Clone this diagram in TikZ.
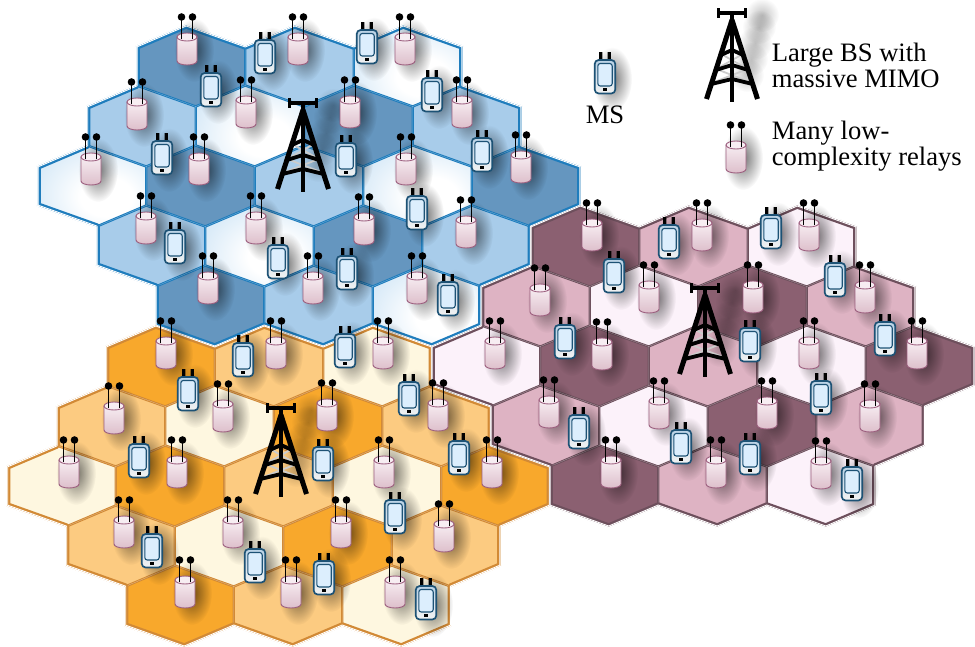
\documentclass[tikz,border=0pt]{standalone}
\usepackage{fontspec}
\setmainfont{Liberation Serif}
\usetikzlibrary{fadings}

% cell colours of the three clusters
\definecolor{bluedark}{HTML}{6596BF}
\definecolor{bluemed}{HTML}{A8CCEA}
\definecolor{bluelight}{HTML}{C6E0F4}
\definecolor{blueline}{HTML}{1F7DBD}
\definecolor{orgdark}{HTML}{F8A82C}
\definecolor{orgmed}{HTML}{FCCB81}
\definecolor{orglight}{HTML}{FEF7E0}
\definecolor{orgline}{HTML}{D28A36}
\definecolor{pnkdark}{HTML}{8B6071}
\definecolor{pnkmed}{HTML}{DEB3C3}
\definecolor{pnklight}{HTML}{FCF2FA}
\definecolor{pnkline}{HTML}{6E505D}
% relay and handset colours
\definecolor{relayline}{HTML}{9C5E7E}
\definecolor{relaytop}{HTML}{F7EDF2}
\definecolor{relaybot}{HTML}{DDBFCB}
\definecolor{phoneline}{HTML}{1D5275}
\definecolor{phonetop}{HTML}{B9D2E6}
\definecolor{phonebot}{HTML}{F2F2F2}
\definecolor{screenblue}{HTML}{DCEEFD}

\pgfdeclareradialshading{lightcell}{\pgfpoint{8bp}{-8bp}}{%
  color(0bp)=(white); color(12bp)=(white); color(42bp)=(bluelight); color(75bp)=(bluelight)}

\tikzfading[name=softblob, inner color=transparent!0, outer color=transparent!100]

\tikzset{
  cellb0/.style={fill=bluemed},
  cellb1/.style={shade, shading=lightcell},
  cellb2/.style={fill=bluedark},
  cello0/.style={fill=orgmed},
  cello1/.style={fill=orglight},
  cello2/.style={fill=orgdark},
  cellp0/.style={fill=pnkmed},
  cellp1/.style={fill=pnklight},
  cellp2/.style={fill=pnkdark},
  relaybody/.style={top color=relaytop, bottom color=relaybot, draw=relayline, line width=0.9},
  phonebody/.style={rounded corners=4, top color=phonetop, bottom color=phonebot, draw=phoneline, line width=1.7},
  towerbrace/.style={draw=gray!40, line width=1.8},
  objshade/.style={fill=black, opacity=0.55, path fading=softblob},
  legendtext/.style={anchor=base west, inner sep=0pt, font=\fontsize{26.6}{26.6}\selectfont},
}

% one hexagonal cell around (#1,#2)
\newcommand\hexat[2]{(#1-54.25,#2-19.5) -- (#1-4.75,#2-40.5) -- (#1+54.25,#2-19.5) -- (#1+54.25,#2+19.5) -- (#1+4.75,#2+40.5) -- (#1-54.25,#2+19.5) -- cycle }

% collect the 19 cells of a cluster and the 18 cells around it
\newcommand\buildcluster[2]{%
  \gdef\cellpath{}\gdef\ringpath{}%
  \foreach \qq in {-3,...,3}{%
    \foreach \rr in {-3,...,3}{%
      \pgfmathtruncatemacro\hexdist{(abs(\qq)+abs(\rr)+abs((\qq)+(\rr)))/2}%
      \pgfmathsetmacro\hx{#1+108.5*(\qq)+49.5*(\rr)}%
      \pgfmathsetmacro\hy{#2-60*(\rr)}%
      \ifnum\hexdist<3 \xdef\cellpath{\cellpath\hexat{\hx}{\hy}}\fi
      \ifnum\hexdist=3 \xdef\ringpath{\ringpath\hexat{\hx}{\hy}}\fi
    }}}

% fill the cells of a cluster with its three shades
\newcommand\fillcluster[3]{%
  \foreach \qq in {-2,...,2}{%
    \foreach \rr in {-2,...,2}{%
      \pgfmathtruncatemacro\hexdist{(abs(\qq)+abs(\rr)+abs((\qq)+(\rr)))/2}%
      \ifnum\hexdist<3
        \pgfmathtruncatemacro\cellcol{mod((\qq)-(\rr)+6,3)}%
        \pgfmathsetmacro\hx{#1+108.5*(\qq)+49.5*(\rr)}%
        \pgfmathsetmacro\hy{#2-60*(\rr)}%
        \path[cell#3\cellcol] \hexat{\hx}{\hy};%
      \fi}}}

% clear the outer half of the border around a cluster
\newcommand\clusterwipe[1]{%
  \begin{scope}[even odd rule]
    \clip (-50,-50) rectangle (1025,700) #1;
    \draw[white, line width=3.2, line join=round] #1;
  \end{scope}}

% thick rim inside a cluster with a thin white seam on its edge
\newcommand\clusterrim[3]{%
  \begin{scope}
    \clip #1;
    \draw[#3, line width=6.4, line join=round] #2;
    \draw[white, line width=1.8, line join=round] #2;
  \end{scope}}

% relay: antennas with balls at (#1,#2)
\newcommand\drawrelay[2]{%
  \path[relaybody] (#1-10,#2+20) -- (#1-10,#2+44) arc[start angle=180, end angle=0, x radius=10, y radius=4] -- (#1+10,#2+20) -- cycle;
  \path[fill=relaytop, draw=relayline, line width=0.9] (#1,#2+20) ellipse [x radius=10, y radius=4];
  \draw[line width=1.7] (#1-5.5,#2) -- (#1-5.5,#2+22) (#1+5.5,#2) -- (#1+5.5,#2+22);
  \fill (#1-5.5,#2) circle[radius=3.8] (#1+5.5,#2) circle[radius=3.8];}

% handset: antenna tips at (#1,#2)
\newcommand\drawphone[2]{%
  \fill (#1-5.8,#2) rectangle (#1-2.7,#2+10) (#1+2.7,#2) rectangle (#1+5.8,#2+10);
  \path[phonebody] (#1-10.3,#2+8) rectangle (#1+10.3,#2+41.5);
  \path[fill=screenblue, draw=phoneline, line width=1.1, rounded corners=2.5] (#1-7.2,#2+11.5) rectangle (#1+7.2,#2+34);
  \fill (#1-2.3,#2+36.4) rectangle (#1+2.3,#2+38.8);}

\newcommand\relayshade[2]{\fill[objshade] (#1+7,#2+33) ellipse [x radius=20, y radius=32];}
\newcommand\phoneshade[2]{\fill[objshade] (#1+7,#2+27) ellipse [x radius=20, y radius=32];}

% lattice tower, top bar centred at (#1,#2)
\newcommand\towershade[2]{%
  \foreach \sx/\sy in {15/62, 19/46, 23/30, 27/14, 30/2}
    \fill[black, opacity=0.24, path fading=softblob] (#1+\sx,#2+\sy) circle[radius=17];}
\newcommand\drawtower[2]{%
  \begin{scope}[shift={(#1,#2)}]
    \draw[towerbrace] (-10.9,41) -- (15.7,56) (10.9,41) -- (-15.7,56)
                      (-15.7,56) -- (20.2,70) (15.7,56) -- (-20.2,70);
    \draw[line width=5, line join=round] (-25.5,86) -- (0,7) -- (25.5,86);
    \draw[line width=4.6] (0,-1) -- (0,89);
    \draw[line width=3.8, line join=round]
      (-11.2,42) -- (0,37) -- (11.2,42)
      (-16,57) -- (0,52) -- (16,57)
      (-20.5,71) -- (0,66) -- (20.5,71);
    \draw[line width=3.6] (-13.5,0) -- (13.5,0);
    \draw[line width=3] (-13.5,-5) -- (-13.5,5) (13.5,-5) -- (13.5,5);
  \end{scope}}

\begin{document}
\begin{tikzpicture}[x=1pt, y=-1pt]
  \useasboundingbox (0,0) rectangle (975,646);
  \fill[white] (0,0) rectangle (975,646);

  \buildcluster{309}{186}\let\cellsB\cellpath\let\ringB\ringpath
  \buildcluster{278.5}{486}\let\cellsO\cellpath\let\ringO\ringpath
  \buildcluster{703}{366}\let\cellsP\cellpath\let\ringP\ringpath

  % cells
  \fillcluster{309}{186}{b}
  \fillcluster{278.5}{486}{o}
  \fillcluster{703}{366}{p}
  \draw[blueline, line width=2.4, line join=round] \cellsB;
  \draw[orgline, line width=2.4, line join=round] \cellsO;
  \draw[pnkline, line width=2.2, line join=round] \cellsP;

  % cluster outlines
  \clusterwipe{\cellsB}
  \clusterwipe{\cellsO}
  \clusterwipe{\cellsP}
  \clusterrim{\cellsB}{\ringB}{blueline}
  \clusterrim{\cellsO}{\ringO}{orgline}
  \clusterrim{\cellsP}{\ringP}{pnkline}

  % shadows
  \towershade{303}{103}
  \towershade{281}{408}
  \towershade{705}{288}
  \towershade{732}{13}
  \foreach \px/\py in {187/17, 298/17, 405/17, 137/82, 246/80, 350/80, 462/80,
      91/137, 199/137, 406/137, 521/135, 146/196, 256/196, 364/197, 466/200,
      208/256, 313/256, 417/256,
      166/321, 276/321, 383/321, 114/386, 223/384, 327/383, 438/383,
      69/440, 177/440, 384/440, 492/440, 124/500, 233/500, 341/500, 444/504,
      185/560, 291/560, 395/560,
      540/268, 592/203, 702/203, 809/203, 649/265, 753/265, 865/265,
      495/321, 602/322, 809/321, 917/321, 549/380, 659/381, 767/381, 870/384,
      611/440, 716/440, 821/441, 736/125}
    \relayshade{\px}{\py};
  \foreach \px/\py in {265/32, 367/22, 211/65, 432/70, 162/133, 346/135, 482/130,
      417/188, 175/222, 278/237, 347/248, 448/274,
      243/335, 345/326, 188/369, 409/374, 139/436, 323/439, 459/433,
      152/526, 255/541, 395/492, 324/553, 426/578,
      669/217, 771/207, 614/251, 835/255, 565/317, 750/320, 885/314,
      821/373, 579/407, 681/422, 750/433, 852/459, 605/52}
    \phoneshade{\px}{\py};

  % base stations
  \drawtower{303}{103}
  \drawtower{281}{408}
  \drawtower{705}{288}
  \drawtower{732}{13}

  % relays
  \foreach \px/\py in {187/17, 298/17, 405/17, 137/82, 246/80, 350/80, 462/80,
      91/137, 199/137, 406/137, 521/135, 146/196, 256/196, 364/197, 466/200,
      208/256, 313/256, 417/256,
      166/321, 276/321, 383/321, 114/386, 223/384, 327/383, 438/383,
      69/440, 177/440, 384/440, 492/440, 124/500, 233/500, 341/500, 444/504,
      185/560, 291/560, 395/560,
      540/268, 592/203, 702/203, 809/203, 649/265, 753/265, 865/265,
      495/321, 602/322, 809/321, 917/321, 549/380, 659/381, 767/381, 870/384,
      611/440, 716/440, 821/441, 736/125}
    \drawrelay{\px}{\py};

  % mobile stations
  \foreach \px/\py in {265/32, 367/22, 211/65, 432/70, 162/133, 346/135, 482/130,
      417/188, 175/222, 278/237, 347/248, 448/274,
      243/335, 345/326, 188/369, 409/374, 139/436, 323/439, 459/433,
      152/526, 255/541, 395/492, 324/553, 426/578,
      669/217, 771/207, 614/251, 835/255, 565/317, 750/320, 885/314,
      821/373, 579/407, 681/422, 750/433, 852/459, 605/52}
    \drawphone{\px}{\py};

  % legend
  \node[legendtext, anchor=base] (txtms) at (605,123) {MS};
  \node[legendtext] (txtbsa) at (771.7,61) {Large BS with};
  \node[legendtext] (txtbsb) at (771.7,87.5) {massive MIMO};
  \node[legendtext] (txtrla) at (771.7,139.5) {Many low-};
  \node[legendtext] (txtrlb) at (771.7,165) {complexity relays};
\end{tikzpicture}
\end{document}
